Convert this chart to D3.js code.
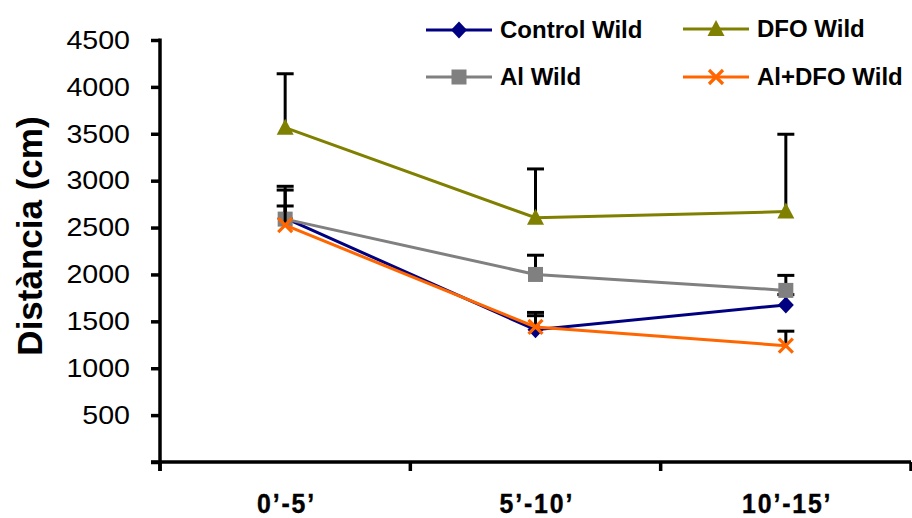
<!DOCTYPE html>
<html>
<head>
<meta charset="utf-8">
<script src="https://cdn.jsdelivr.net/npm/d3@7"></script>
<style>
  html, body { margin: 0; padding: 0; background: #fff; }
  svg { display: block; font-family: "Liberation Sans", Arial, sans-serif; }
</style>
</head>
<body>
<svg id="chart" width="912" height="518"></svg>
<script>
// Time intervals
const categories = ["0\u2019-5\u2019", "5\u2019-10\u2019", "10\u2019-15\u2019"];

// Mean distance travelled (cm) and upper error (SEM) per group
const controlWild    = [2600, 1410, 1675];
const controlWildErr = [340, 150, 110];
const dfoWild        = [3565, 2605, 2670];
const dfoWildErr     = [575, 520, 825];
const alWild         = [2590, 2000, 1830];
const alWildErr      = [310, 205, 160];
const alDfoWild      = [2525, 1440, 1240];
const alDfoWildErr   = [205, 155, 155];

const yTicks = [0, 500, 1000, 1500, 2000, 2500, 3000, 3500, 4000, 4500];

const series = [
  { name: "Control Wild", values: controlWild, err: controlWildErr, color: "#000080", marker: "diamond" },
  { name: "DFO Wild",     values: dfoWild,     err: dfoWildErr,     color: "#808000", marker: "triangle" },
  { name: "Al Wild",      values: alWild,      err: alWildErr,      color: "#808080", marker: "square" },
  { name: "Al+DFO Wild",  values: alDfoWild,   err: alDfoWildErr,   color: "#FF6600", marker: "cross" }
];

const svg = d3.select("#chart");
const plotLeft = 160, plotRight = 911, plotTop = 40, plotBottom = 462;
const tickStretch = 1.1;     // y tick numbers are set slightly wide
const catStretch = 0.92;     // category labels are set slightly condensed

const x = d3.scaleBand().domain(categories).range([plotLeft, plotRight]).padding(0);
const y = d3.scaleLinear().domain([0, 4500]).range([plotBottom, plotTop]);
const cx = c => x(c) + x.bandwidth() / 2;

// Y axis
const yAxis = svg.append("g")
  .attr("transform", `translate(${plotLeft},0)`)
  .call(d3.axisLeft(y).tickValues(yTicks).tickSize(9).tickPadding(21)
    .tickFormat(d => d === 0 ? "" : d));
yAxis.select(".domain").remove();
yAxis.selectAll(".tick line").attr("stroke", "#000").attr("stroke-width", 3.5);
yAxis.selectAll(".tick text")
  .attr("font-size", 26).attr("fill", "#000")
  .attr("font-family", "'Liberation Sans', Arial, sans-serif")
  .attr("x", -30 / tickStretch)
  .attr("transform", `scale(${tickStretch},1)`);
svg.append("line")
  .attr("x1", plotLeft).attr("x2", plotLeft)
  .attr("y1", y(4500) - 1.5).attr("y2", plotBottom + 9)
  .attr("stroke", "#000").attr("stroke-width", 3.5);

// X axis: labels centred in each band, ticks on band boundaries
const xAxis = svg.append("g")
  .attr("transform", `translate(0,${plotBottom})`)
  .call(d3.axisBottom(x).tickSize(0));
xAxis.select(".domain").remove();
xAxis.selectAll(".tick text")
  .attr("x", 1.5).attr("y", 51).attr("dy", 0)
  .attr("font-size", 27).attr("font-weight", "bold").attr("fill", "#000")
  .attr("stroke", "#000").attr("stroke-width", 0.4)
  .attr("font-family", "'Liberation Sans', Arial, sans-serif")
  .attr("letter-spacing", 2)
  .attr("transform", `scale(${catStretch},1)`);
const bounds = categories.map(c => x(c)).concat([x(categories[categories.length - 1]) + x.bandwidth()]);
svg.append("g").selectAll("line").data(bounds).join("line")
  .attr("x1", d => d).attr("x2", d => d)
  .attr("y1", plotBottom).attr("y2", plotBottom + 9)
  .attr("stroke", "#000").attr("stroke-width", 3.5);
svg.append("line")
  .attr("x1", plotLeft - 9).attr("x2", plotRight)
  .attr("y1", plotBottom).attr("y2", plotBottom)
  .attr("stroke", "#000").attr("stroke-width", 3.5);

// Y axis title
svg.append("text")
  .attr("transform", `translate(42,236) rotate(-90)`)
  .attr("text-anchor", "middle")
  .attr("font-size", 35).attr("font-weight", "bold").attr("fill", "#000")
  .text("Distància (cm)");

// Marker drawing
function drawMarker(g, type, color, px, py) {
  if (type === "diamond") {
    g.append("path").attr("d", `M${px},${py - 8.5}L${px + 8},${py}L${px},${py + 8.5}L${px - 8},${py}Z`).attr("fill", color);
  } else if (type === "triangle") {
    g.append("path").attr("d", `M${px},${py - 9}L${px + 8.5},${py + 7}L${px - 8.5},${py + 7}Z`).attr("fill", color);
  } else if (type === "square") {
    g.append("rect").attr("x", px - 7.5).attr("y", py - 7.5).attr("width", 15).attr("height", 15).attr("fill", color);
  } else if (type === "cross") {
    g.append("path").attr("d", `M${px - 7},${py - 7}L${px + 7},${py + 7}M${px + 7},${py - 7}L${px - 7},${py + 7}`)
      .attr("stroke", color).attr("stroke-width", 3.2).attr("fill", "none");
  }
}

const line = d3.line().x((d, i) => cx(categories[i])).y(d => y(d));

series.forEach(s => {
  const g = svg.append("g");
  // upper error bars
  s.values.forEach((v, i) => {
    const px = cx(categories[i]);
    const yTop = y(v + s.err[i]);
    g.append("line").attr("x1", px).attr("x2", px).attr("y1", y(v)).attr("y2", yTop)
      .attr("stroke", "#000").attr("stroke-width", 3);
    g.append("line").attr("x1", px - 8.5).attr("x2", px + 8.5).attr("y1", yTop).attr("y2", yTop)
      .attr("stroke", "#000").attr("stroke-width", 3);
  });
  g.append("path").datum(s.values).attr("d", line)
    .attr("fill", "none").attr("stroke", s.color).attr("stroke-width", 3);
  s.values.forEach((v, i) => drawMarker(g, s.marker, s.color, cx(categories[i]), y(v)));
});

// Legend (two columns)
const legendPos = [
  { lx: 426, ly: 30 }, { lx: 683, ly: 29 },
  { lx: 426, ly: 77 }, { lx: 683, ly: 77 }
];
series.forEach((s, i) => {
  const p = legendPos[i];
  const g = svg.append("g");
  g.append("line").attr("x1", p.lx).attr("x2", p.lx + 66).attr("y1", p.ly).attr("y2", p.ly)
    .attr("stroke", s.color).attr("stroke-width", 3);
  drawMarker(g, s.marker, s.color, p.lx + 33, p.ly);
  g.append("text").attr("x", p.lx + 74).attr("y", p.ly + 7.5)
    .attr("font-size", 24).attr("font-weight", "bold").attr("fill", "#000")
    .text(s.name);
});
</script>
</body>
</html>
